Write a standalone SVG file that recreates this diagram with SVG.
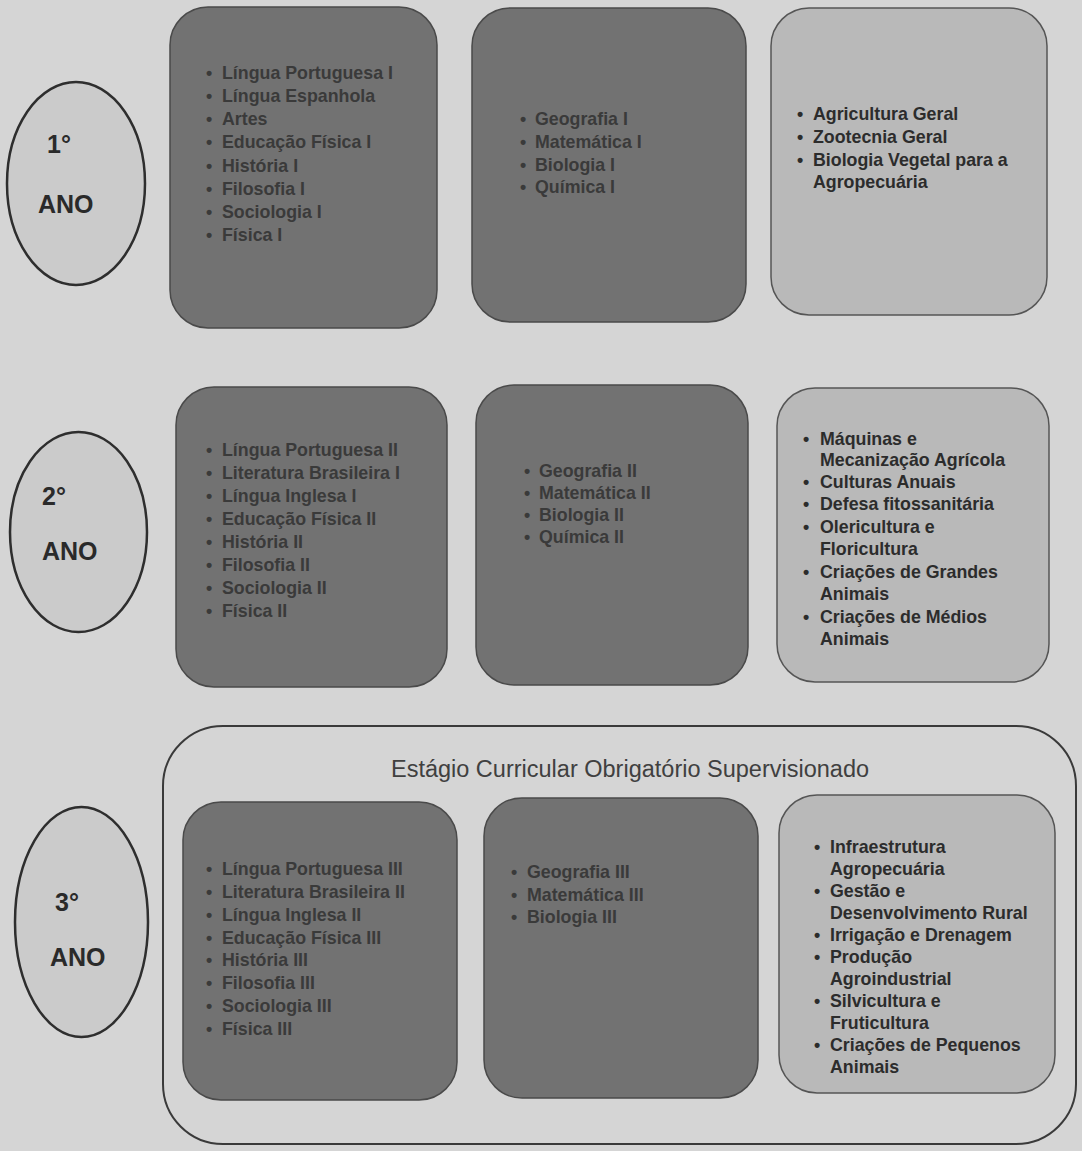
<svg xmlns="http://www.w3.org/2000/svg" width="1082" height="1151" viewBox="0 0 1082 1151">
<style>
.bg{fill:#d5d5d5}
.yr{fill:#cbcbcb;stroke:#2e2e2e;stroke-width:2.5}
.yt{font-family:"Liberation Sans",Arial,sans-serif;font-weight:bold;font-size:25px;fill:#2a2a2a}
.dk{fill:#727272;stroke:#4a4a4a;stroke-width:1.5}
.lt{fill:#b9b9b9;stroke:#555;stroke-width:1.5}
.ct{fill:#d5d5d5;stroke:#3a3a3a;stroke-width:2}
.tt{font-family:"Liberation Sans",Arial,sans-serif;font-size:23.5px;fill:#404040}
.li{font-family:"Liberation Sans",Arial,sans-serif;font-weight:bold;font-size:17.8px;fill:#3a3a3a}
.lb{font-family:"Liberation Sans",Arial,sans-serif;font-weight:bold;font-size:17.8px;fill:#2c2c2c}
</style>
<rect class="bg" x="0" y="0" width="1082" height="1151"/>

<g id="estagio">
<rect class="ct" x="163" y="726" width="913" height="418" rx="60" ry="60"/>
<text class="tt" x="630" y="777" text-anchor="middle">Estágio Curricular Obrigatório Supervisionado</text>
</g>

<g id="ano1">
<ellipse class="yr" cx="76" cy="183.5" rx="69" ry="101.5"/>
<text class="yt" x="47" y="153">1°</text>
<text class="yt" x="38" y="213">ANO</text>
</g>
<g id="ano2">
<ellipse class="yr" cx="78.5" cy="532" rx="68.5" ry="100"/>
<text class="yt" x="42" y="505">2°</text>
<text class="yt" x="42" y="560">ANO</text>
</g>
<g id="ano3">
<ellipse class="yr" cx="81.5" cy="922" rx="66.5" ry="115"/>
<text class="yt" x="55" y="911">3°</text>
<text class="yt" x="50" y="966">ANO</text>
</g>

<g id="ano1-gerais">
<rect class="dk" x="170" y="7" width="267" height="321" rx="38" ry="38"/>
<g class="li">
<text x="206" y="79">•</text><text x="222" y="79">Língua Portuguesa I</text>
<text x="206" y="102">•</text><text x="222" y="102">Língua Espanhola</text>
<text x="206" y="125">•</text><text x="222" y="125">Artes</text>
<text x="206" y="148">•</text><text x="222" y="148">Educação Física I</text>
<text x="206" y="172">•</text><text x="222" y="172">História I</text>
<text x="206" y="195">•</text><text x="222" y="195">Filosofia I</text>
<text x="206" y="218">•</text><text x="222" y="218">Sociologia I</text>
<text x="206" y="241">•</text><text x="222" y="241">Física I</text>
</g>
</g>

<g id="ano1-exatas">
<rect class="dk" x="472" y="8" width="274" height="314" rx="38" ry="38"/>
<g class="li">
<text x="520" y="125">•</text><text x="535" y="125">Geografia I</text>
<text x="520" y="148">•</text><text x="535" y="148">Matemática I</text>
<text x="520" y="171">•</text><text x="535" y="171">Biologia I</text>
<text x="520" y="193">•</text><text x="535" y="193">Química I</text>
</g>
</g>

<g id="ano1-tecnicas">
<rect class="lt" x="771" y="8" width="276" height="307" rx="38" ry="38"/>
<g class="lb">
<text x="797" y="120">•</text><text x="813" y="120">Agricultura Geral</text>
<text x="797" y="143">•</text><text x="813" y="143">Zootecnia Geral</text>
<text x="797" y="166">•</text><text x="813" y="166">Biologia Vegetal para a</text>
<text x="813" y="188">Agropecuária</text>
</g>
</g>

<g id="ano2-gerais">
<rect class="dk" x="176" y="387" width="271" height="300" rx="38" ry="38"/>
<g class="li">
<text x="206" y="456">•</text><text x="222" y="456">Língua Portuguesa II</text>
<text x="206" y="479">•</text><text x="222" y="479">Literatura Brasileira I</text>
<text x="206" y="502">•</text><text x="222" y="502">Língua Inglesa I</text>
<text x="206" y="525">•</text><text x="222" y="525">Educação Física II</text>
<text x="206" y="548">•</text><text x="222" y="548">História II</text>
<text x="206" y="571">•</text><text x="222" y="571">Filosofia II</text>
<text x="206" y="594">•</text><text x="222" y="594">Sociologia II</text>
<text x="206" y="617">•</text><text x="222" y="617">Física II</text>
</g>
</g>

<g id="ano2-exatas">
<rect class="dk" x="476" y="385" width="272" height="300" rx="38" ry="38"/>
<g class="li">
<text x="524" y="477">•</text><text x="539" y="477">Geografia II</text>
<text x="524" y="499">•</text><text x="539" y="499">Matemática II</text>
<text x="524" y="521">•</text><text x="539" y="521">Biologia II</text>
<text x="524" y="543">•</text><text x="539" y="543">Química II</text>
</g>
</g>

<g id="ano2-tecnicas">
<rect class="lt" x="777" y="388" width="272" height="294" rx="38" ry="38"/>
<g class="lb">
<text x="803" y="445">•</text><text x="820" y="445">Máquinas e</text>
<text x="820" y="466">Mecanização Agrícola</text>
<text x="803" y="488">•</text><text x="820" y="488">Culturas Anuais</text>
<text x="803" y="510">•</text><text x="820" y="510">Defesa fitossanitária</text>
<text x="803" y="533">•</text><text x="820" y="533">Olericultura e</text>
<text x="820" y="555">Floricultura</text>
<text x="803" y="578">•</text><text x="820" y="578">Criações de Grandes</text>
<text x="820" y="600">Animais</text>
<text x="803" y="623">•</text><text x="820" y="623">Criações de Médios</text>
<text x="820" y="645">Animais</text>
</g>
</g>

<g id="ano3-gerais">
<rect class="dk" x="183" y="802" width="274" height="298" rx="38" ry="38"/>
<g class="li">
<text x="206" y="875">•</text><text x="222" y="875">Língua Portuguesa III</text>
<text x="206" y="898">•</text><text x="222" y="898">Literatura Brasileira II</text>
<text x="206" y="921">•</text><text x="222" y="921">Língua Inglesa II</text>
<text x="206" y="944">•</text><text x="222" y="944">Educação Física III</text>
<text x="206" y="966">•</text><text x="222" y="966">História III</text>
<text x="206" y="989">•</text><text x="222" y="989">Filosofia III</text>
<text x="206" y="1012">•</text><text x="222" y="1012">Sociologia III</text>
<text x="206" y="1035">•</text><text x="222" y="1035">Física III</text>
</g>
</g>

<g id="ano3-exatas">
<rect class="dk" x="484" y="798" width="274" height="300" rx="38" ry="38"/>
<g class="li">
<text x="511" y="878">•</text><text x="527" y="878">Geografia III</text>
<text x="511" y="901">•</text><text x="527" y="901">Matemática III</text>
<text x="511" y="923">•</text><text x="527" y="923">Biologia III</text>
</g>
</g>

<g id="ano3-tecnicas">
<rect class="lt" x="779" y="795" width="276" height="298" rx="38" ry="38"/>
<g class="lb">
<text x="814" y="853">•</text><text x="830" y="853">Infraestrutura</text>
<text x="830" y="875">Agropecuária</text>
<text x="814" y="897">•</text><text x="830" y="897">Gestão e</text>
<text x="830" y="919">Desenvolvimento Rural</text>
<text x="814" y="941">•</text><text x="830" y="941">Irrigação e Drenagem</text>
<text x="814" y="963">•</text><text x="830" y="963">Produção</text>
<text x="830" y="985">Agroindustrial</text>
<text x="814" y="1007">•</text><text x="830" y="1007">Silvicultura e</text>
<text x="830" y="1029">Fruticultura</text>
<text x="814" y="1051">•</text><text x="830" y="1051">Criações de Pequenos</text>
<text x="830" y="1073">Animais</text>
</g>
</g>
</svg>
